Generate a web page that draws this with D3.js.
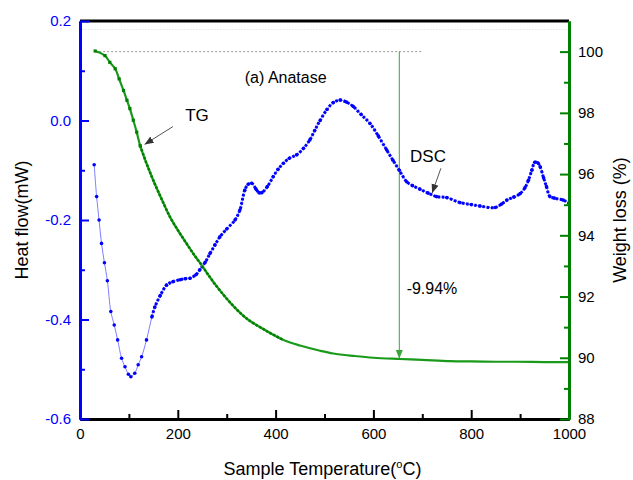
<!DOCTYPE html>
<html lang="en">
  <head>
    <meta charset="UTF-8" />
    <title>Anatase TG-DSC</title>
    <script src="https://d3js.org/d3.v7.min.js"></script>
    <style>
      body {
        margin: 0;
        padding: 0;
        background: #fff;
        font-family: Arial, "Liberation Sans", sans-serif;
      }
      svg {
        display: block;
      }
      .tick text {
        font-size: 15px;
        font-family: Arial, "Liberation Sans", sans-serif;
      }
    </style>
  </head>
  <body>
    <svg width="633" height="480"></svg>
    <script>
      // DSC curve (heat flow, left axis)
      const dscTemp = [29, 34, 39, 44, 50, 56, 63, 70, 77, 85, 92, 99, 104, 112, 119, 126, 136, 147, 153, 164,
        177, 190, 205, 215, 225, 237, 245, 256, 266, 276, 286, 300, 317, 327, 337, 344, 351, 360, 366, 372, 383, 395,
        405, 416, 428, 443, 457, 470, 480, 491, 505, 518, 532, 545, 559, 575, 593, 610, 627, 640, 653, 668, 680,
        695, 712, 729, 750, 777, 800, 818, 849, 862, 873, 887, 900, 910, 917, 924, 930, 936, 941, 948, 954,
        961, 970, 988, 1000];
      const dscHeat = [-0.089, -0.153, -0.200, -0.247, -0.286, -0.322, -0.384, -0.411, -0.441, -0.478, -0.495,
        -0.510, -0.515, -0.508, -0.491, -0.475, -0.441, -0.395, -0.375, -0.352, -0.331, -0.324, -0.320, -0.318,
        -0.317, -0.310, -0.300, -0.285, -0.267, -0.250, -0.234, -0.218, -0.200, -0.180, -0.140, -0.128, -0.126,
        -0.138, -0.145, -0.145, -0.133, -0.113, -0.098, -0.086, -0.076, -0.069, -0.056, -0.039, -0.020, 0.000,
        0.022, 0.036, 0.041, 0.037, 0.028, 0.012, -0.006, -0.031, -0.059, -0.080, -0.100, -0.123, -0.131,
        -0.138, -0.146, -0.153, -0.155, -0.165, -0.169, -0.172, -0.175, -0.168, -0.160, -0.154, -0.147, -0.135,
        -0.120, -0.100, -0.084, -0.085, -0.093, -0.115, -0.133, -0.153, -0.156, -0.160, -0.166];

      // TG curve (weight, right axis)
      const tgTemp = [31, 51, 61, 72, 80, 89, 96, 102, 109, 116, 123, 136, 150, 167, 184, 200, 218, 233, 249,
        267, 286, 313, 341, 382, 416, 450, 491, 518, 560, 600, 654, 700, 757, 800, 850, 893, 950, 1000];
      const tgWeight = [100.02, 99.87, 99.65, 99.44, 99.11, 98.73, 98.41, 98.14, 97.76, 97.37, 96.93, 96.35,
        95.79, 95.18, 94.6, 94.17, 93.73, 93.37, 93.02, 92.6, 92.2, 91.7, 91.28, 90.87, 90.58, 90.4, 90.23,
        90.14, 90.06, 90.0, 89.96, 89.93, 89.89, 89.88, 89.87, 89.87, 89.86, 89.86];

      const tempTicks = [0, 200, 400, 600, 800, 1000];
      const tempMinor = [100, 300, 500, 700, 900];
      const heatTicks = [-0.6, -0.4, -0.2, 0.0, 0.2];
      const heatMinor = [-0.5, -0.3, -0.1, 0.1];
      const weightTicks = [88, 90, 92, 94, 96, 98, 100];
      const weightMinor = [89, 91, 93, 95, 97, 99];

      const blue = "#0000ff";
      const green = "#008000";

      const svg = d3.select("svg");
      svg.append("rect").attr("width", 633).attr("height", 480).attr("fill", "#fff");

      const x = d3.scaleLinear().domain([0, 1000]).range([80, 569]);
      const yL = d3.scaleLinear().domain([-0.6, 0.2]).range([419, 21]);
      const yR = d3.scaleLinear().domain([88, 101]).range([419, 21]);

      const defs = svg.append("defs");
      function arrowMarker(id, color) {
        defs.append("marker")
          .attr("id", id)
          .attr("viewBox", "0 0 10 10")
          .attr("refX", 10)
          .attr("refY", 5)
          .attr("markerWidth", 9)
          .attr("markerHeight", 9)
          .attr("markerUnits", "userSpaceOnUse")
          .attr("orient", "auto")
          .append("path")
          .attr("d", "M0,1 L10,5 L0,9 Z")
          .attr("fill", color);
      }
      arrowMarker("arrGreen", "#3aa63a");
      arrowMarker("arrGray", "#333");

      // faint dotted line near top, dashed reference line at 100 %
      svg.append("line")
        .attr("x1", x(5)).attr("x2", x(995))
        .attr("y1", yR(100.72)).attr("y2", yR(100.72))
        .attr("stroke", "#d8d8d8").attr("stroke-dasharray", "1,2");
      svg.append("line")
        .attr("x1", x(31)).attr("x2", x(700))
        .attr("y1", yR(100)).attr("y2", yR(100))
        .attr("stroke", "#9a9a9a").attr("stroke-dasharray", "2,2");

      // vertical arrow for weight loss
      svg.append("line")
        .attr("x1", x(653)).attr("x2", x(653))
        .attr("y1", yR(100)).attr("y2", yR(89.97))
        .attr("stroke", "#3aa63a").attr("stroke-width", 1)
        .attr("marker-end", "url(#arrGreen)");

      // DSC
      const dscData = dscTemp.map((t, i) => ({ t: t, v: dscHeat[i] }));
      const dscLine = d3.line().x((d) => x(d.t)).y((d) => yL(d.v)).curve(d3.curveCatmullRom);
      svg.append("path")
        .datum(dscData)
        .attr("d", dscLine)
        .attr("fill", "none")
        .attr("stroke", "#6f6fff")
        .attr("stroke-width", 0.9);
      svg.append("path")
        .datum(dscData.filter((d) => d.t >= 140))
        .attr("d", dscLine)
        .attr("fill", "none")
        .attr("stroke", blue)
        .attr("stroke-width", 3)
        .attr("stroke-dasharray", "2.6,1.6");
      svg.selectAll(".dsc-dot")
        .data(dscData)
        .enter()
        .append("circle")
        .attr("class", "dsc-dot")
        .attr("cx", (d) => x(d.t))
        .attr("cy", (d) => yL(d.v))
        .attr("r", 1.8)
        .attr("fill", blue);

      // TG
      const tgData = tgTemp.map((t, i) => ({ t: t, v: tgWeight[i] }));
      const tgLine = d3.line().x((d) => x(d.t)).y((d) => yR(d.v)).curve(d3.curveCatmullRom);
      svg.append("path")
        .datum(tgData)
        .attr("d", tgLine)
        .attr("fill", "none")
        .attr("stroke", "#1a9a1a")
        .attr("stroke-width", 2.2);
      svg.append("path")
        .datum(tgData.filter((d) => d.t >= 120 && d.t <= 420))
        .attr("d", tgLine)
        .attr("fill", "none")
        .attr("stroke", green)
        .attr("stroke-width", 2.6)
        .attr("stroke-dasharray", "2.4,1.6");
      svg.selectAll(".tg-dot")
        .data(tgData.filter((d) => d.t < 125))
        .enter()
        .append("rect")
        .attr("class", "tg-dot")
        .attr("x", (d) => x(d.t) - 1.6)
        .attr("y", (d) => yR(d.v) - 1.6)
        .attr("width", 3.2)
        .attr("height", 3.2)
        .attr("fill", green);

      // axes
      function styleAxis(g, color) {
        g.select(".domain").attr("stroke", color).attr("stroke-width", 3);
        g.selectAll(".tick line").attr("stroke", color).attr("stroke-width", 2);
        g.selectAll(".tick text").attr("fill", color === green ? "#000" : color);
      }

      // top border
      svg.append("line")
        .attr("x1", x(0)).attr("x2", x(1000))
        .attr("y1", yL(0.2)).attr("y2", yL(0.2))
        .attr("stroke", "#000").attr("stroke-width", 3);

      const xAxis = svg.append("g").attr("transform", `translate(0,${yL(-0.6)})`);
      xAxis.call(d3.axisBottom(x).tickValues(tempTicks).tickSize(-9).tickSizeOuter(0).tickPadding(9).tickFormat(d3.format("d")));
      styleAxis(xAxis, "#000");
      const xMinor = svg.append("g").attr("transform", `translate(0,${yL(-0.6)})`);
      xMinor.call(d3.axisBottom(x).tickValues(tempMinor).tickSize(-5).tickSizeOuter(0).tickFormat(""));
      styleAxis(xMinor, "#000");

      const leftAxis = svg.append("g").attr("transform", `translate(${x(0)},0)`);
      leftAxis.call(d3.axisLeft(yL).tickValues(heatTicks).tickSize(-9).tickSizeOuter(0).tickPadding(9).tickFormat((d) => d.toFixed(1)));
      styleAxis(leftAxis, blue);
      const leftMinor = svg.append("g").attr("transform", `translate(${x(0)},0)`);
      leftMinor.call(d3.axisLeft(yL).tickValues(heatMinor).tickSize(-5).tickSizeOuter(0).tickFormat(""));
      styleAxis(leftMinor, blue);

      const rightAxis = svg.append("g").attr("transform", `translate(${x(1000)},0)`);
      rightAxis.call(d3.axisRight(yR).tickValues(weightTicks).tickSize(-9).tickSizeOuter(0).tickPadding(9).tickFormat(d3.format("d")));
      styleAxis(rightAxis, green);
      const rightMinor = svg.append("g").attr("transform", `translate(${x(1000)},0)`);
      rightMinor.call(d3.axisRight(yR).tickValues(weightMinor).tickSize(-5).tickSizeOuter(0).tickFormat(""));
      styleAxis(rightMinor, green);

      // axis titles
      const title = svg.append("g").attr("font-size", 18).attr("fill", "#000");
      const xt = title.append("text")
        .attr("x", x(500) - 2)
        .attr("y", 475)
        .attr("text-anchor", "middle");
      xt.append("tspan").text("Sample Temperature(");
      xt.append("tspan").attr("font-size", 11).attr("dy", -7).text("o");
      xt.append("tspan").attr("dy", 7).text("C)");

      title.append("text")
        .attr("transform", `translate(28,${yL(-0.2)}) rotate(-90)`)
        .attr("text-anchor", "middle")
        .text("Heat flow(mW)");
      title.append("text")
        .attr("transform", `translate(626,${yL(-0.2)}) rotate(-90)`)
        .attr("text-anchor", "middle")
        .text("Weight loss (%)");

      // annotations
      const notes = svg.append("g").attr("fill", "#000");
      notes.append("text").attr("x", x(337)).attr("y", yL(0.076)).attr("font-size", 16).text("(a) Anatase");
      notes.append("text").attr("x", x(215)).attr("y", yR(97.72)).attr("font-size", 17).text("TG");
      notes.append("text").attr("x", x(675)).attr("y", yL(-0.084)).attr("font-size", 17).text("DSC");
      notes.append("text").attr("x", x(668)).attr("y", yR(92.08)).attr("font-size", 16).text("-9.94%");

      svg.append("line")
        .attr("x1", x(190)).attr("y1", yR(97.55))
        .attr("x2", x(132)).attr("y2", yR(96.97))
        .attr("stroke", "#555").attr("stroke-width", 1)
        .attr("marker-end", "url(#arrGray)");
      svg.append("line")
        .attr("x1", x(738)).attr("y1", yL(-0.096))
        .attr("x2", x(720)).attr("y2", yL(-0.146))
        .attr("stroke", "#555").attr("stroke-width", 1)
        .attr("marker-end", "url(#arrGray)");
    </script>
  </body>
</html>
